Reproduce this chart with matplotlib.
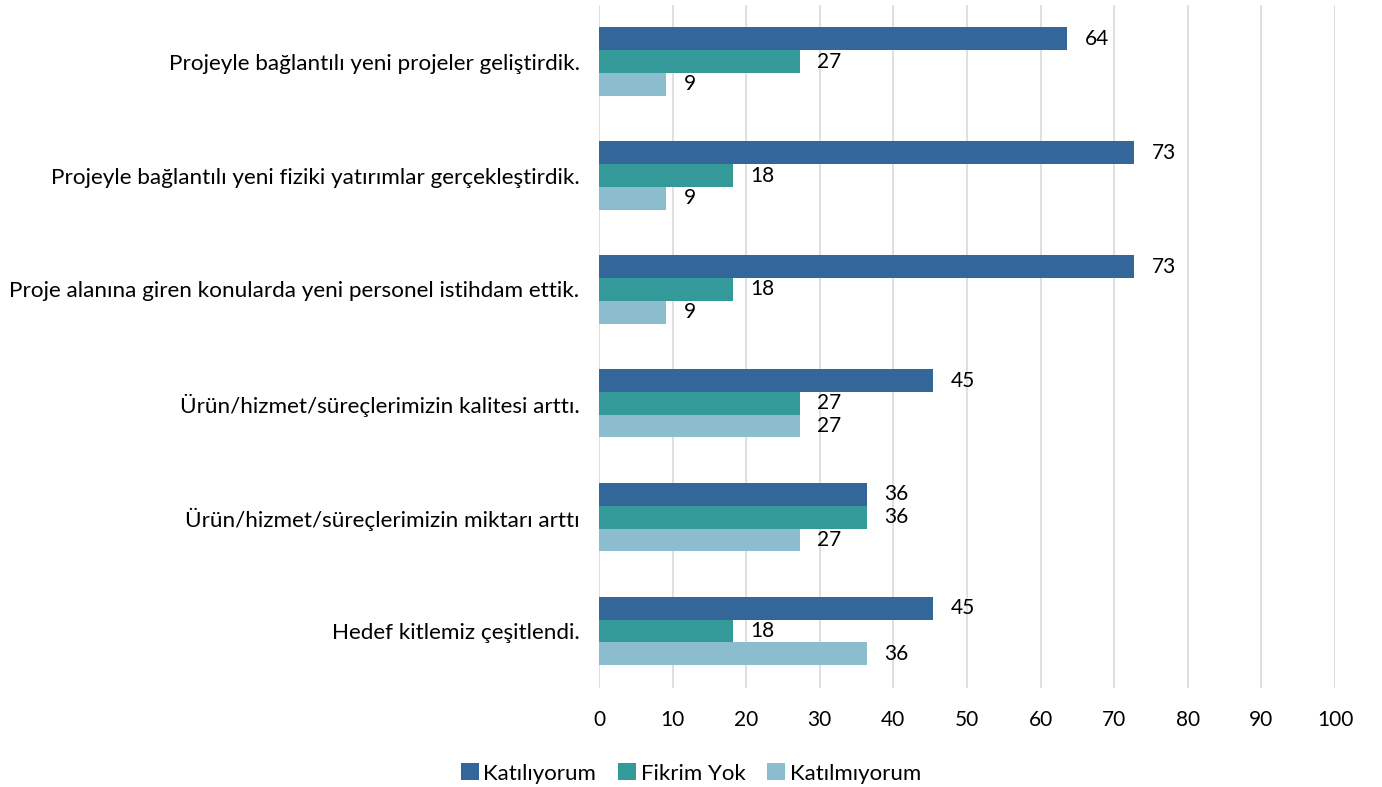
import numpy as np
import matplotlib
matplotlib.use('Agg')
import matplotlib.pyplot as plt

categories = [
    'Projeyle bağlantılı yeni projeler geliştirdik.',
    'Projeyle bağlantılı yeni fiziki yatırımlar gerçekleştirdik.',
    'Proje alanına giren konularda yeni personel istihdam ettik.',
    'Ürün/hizmet/süreçlerimizin kalitesi arttı.',
    'Ürün/hizmet/süreçlerimizin miktarı arttı',
    'Hedef kitlemiz çeşitlendi.',
]
katiliyorum = [63.64, 72.73, 72.73, 45.45, 36.36, 45.45]
fikrim_yok = [27.27, 18.18, 18.18, 27.27, 36.36, 18.18]
katilmiyorum = [9.09, 9.09, 9.09, 27.27, 27.27, 36.36]
series_names = ['Katılıyorum', 'Fikrim Yok', 'Katılmıyorum']
colors = ['#336699', '#339999', '#8cbdcf']

plt.rcParams['font.family'] = ['Lato', 'DejaVu Sans']

fig = plt.figure(figsize=(13.82, 7.87), dpi=100)
ax = fig.add_axes([0.4334, 0.1258, 0.966 - 0.4334, 0.994 - 0.1258])

y = np.arange(len(categories))
h = 0.2
for i, (vals, name, c) in enumerate(zip([katiliyorum, fikrim_yok, katilmiyorum], series_names, colors)):
    pos = y + (i - 1) * h
    ax.barh(pos, vals, height=h, color=c, label=name, zorder=3)
    for p, v in zip(pos, vals):
        ax.text(v + 2.4, p, f'{v:.0f}', va='center', ha='left', fontsize=15)

ax.set_ylim(len(categories) - 0.5, -0.5)
ax.set_xlim(0, 100)
ax.set_xticks(np.arange(0, 101, 10))
ax.set_yticks(y)
ax.set_yticklabels(categories, fontsize=16.2)
ax.tick_params(axis='x', labelsize=15, length=0, pad=16)
ax.tick_params(axis='y', length=0, pad=14)
ax.grid(axis='x', color='#d9d9d9', linewidth=1.2, zorder=0)
for s in ax.spines.values():
    s.set_visible(False)

ax.legend(loc='center', bbox_to_anchor=(0.125, -0.125), ncol=3, frameon=False,
          fontsize=16, handlelength=0.8, handleheight=0.8, handletextpad=0.2,
          columnspacing=1.0)

fig.savefig('out.png', dpi=100)
